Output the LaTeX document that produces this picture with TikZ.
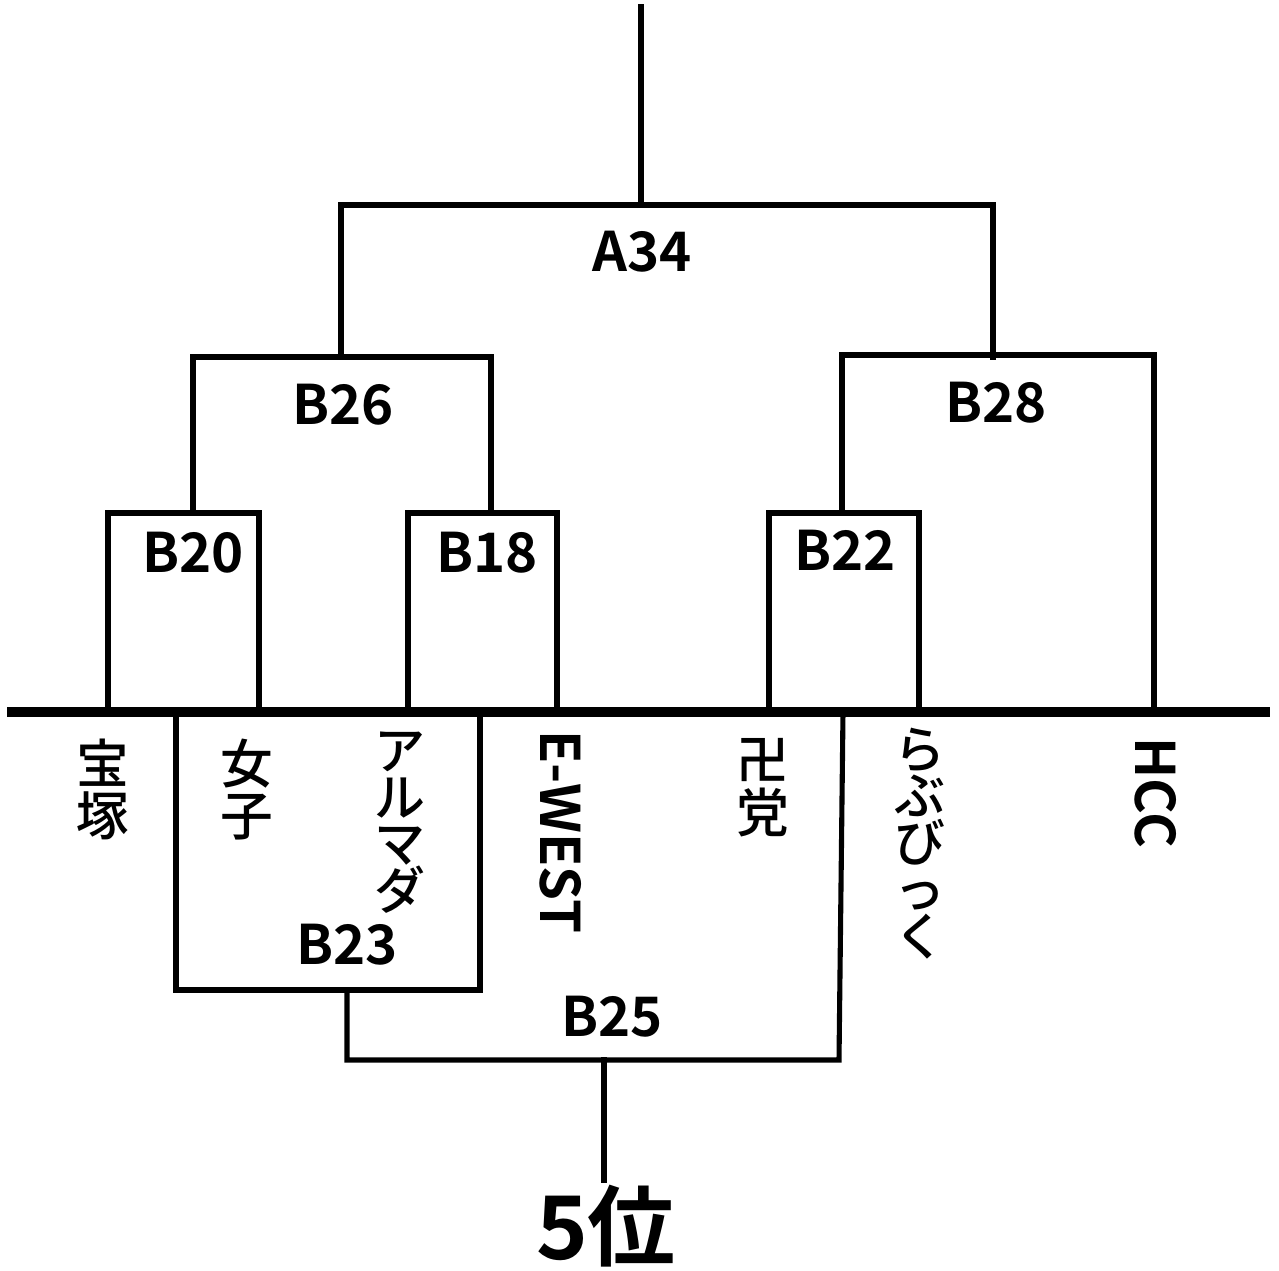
\documentclass[tikz,border=0pt]{standalone}
\usepackage{fontspec}
\setmainfont{Noto Sans CJK JP}[BoldFont={* Bold}]
\newfontfamily\jpb{Noto Sans CJK JP Bold}
\newfontfamily\jpm{Noto Sans CJK JP Medium}
\begin{document}
\begin{tikzpicture}[x=0.01cm,y=-0.01cm,
  br/.style={line width=1.45pt, line cap=rect, line join=miter},
  base/.style={line width=2.9pt},
  lbl/.style={inner sep=0pt, font=\jpb\fontsize{15.5}{16}\selectfont},
  kname/.style={inner sep=0pt, align=center, anchor=north, font=\jpm\fontsize{15}{15}\selectfont},
  kana/.style={inner sep=0pt, align=center, anchor=north, font=\jpm\fontsize{14.5}{13.3}\selectfont},
  hname/.style={inner sep=0pt, rotate=-90, font=\jpb\fontsize{15.5}{16}\selectfont}]
\useasboundingbox (0,0) rectangle (1279,1271);
% coordinates
\coordinate (root) at (641,7);
\coordinate (a34) at (641,205);
\coordinate (b25root) at (604,1180);
% brackets
\draw[br] (root) -- (a34);
\draw[br] (341,357) -- (341,205) -- (993,205) -- (993,357);
\draw[br] (193,513) -- (193,357) -- (491,357) -- (491,513);
\draw[br] (842,513) -- (842,355) -- (1154,355) -- (1154,712);
\draw[br] (108,712) -- (108,513) -- (259,513) -- (259,712);
\draw[br] (408,712) -- (408,513) -- (557,513) -- (557,712);
\draw[br] (769,712) -- (769,513) -- (919,513) -- (919,712);
\draw[br] (176,712) -- (176,990) -- (480,990) -- (480,712);
\draw[br] (347,990) -- (347,1060) -- (839,1060) -- (843,712);
\draw[br] (604,1060) -- (b25root);
\draw[base] (7,712) -- (1270,712);
% match labels
\node[lbl] (A34) at (642,252) {A34};
\node[lbl] (B26) at (343,405) {B26};
\node[lbl] (B28) at (996,403) {B28};
\node[lbl] (B20) at (193,553) {B20};
\node[lbl] (B18) at (487,553) {B18};
\node[lbl] (B22) at (845,550) {B22};
\node[lbl] (B23) at (347,945) {B23};
\node[lbl] (B25) at (612,1017) {B25};
\node[inner sep=0pt, font=\jpb\fontsize{25}{25}\selectfont] (fifth) at (606,1226) {5位};
% team names
\node[kname] (t1) at (103,738) {宝\\塚};
\node[kname] (t2) at (247,738) {女\\子};
\node[kana] (t3) at (400,731) {ア\\ル\\マ\\ダ};
\node[hname] (t4) at (561,832) {E-WEST};
\node[kname] (t5) at (763,738) {卍\\党};
\node[kana] (t6) at (920,727) {ら\\ぶ\\び\\っ\\く};
\node[hname] (t7) at (1156,793) {HCC};
\end{tikzpicture}
\end{document}
